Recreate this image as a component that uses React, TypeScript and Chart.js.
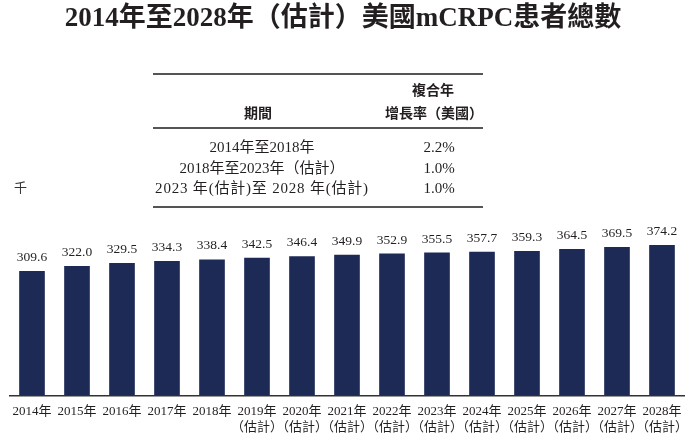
import React, { useEffect, useRef } from 'react'
import { Chart, registerables } from 'chart.js'

Chart.register(...registerables)

const years = ['2014', '2015', '2016', '2017', '2018', '2019', '2020', '2021', '2022', '2023', '2024', '2025', '2026', '2027', '2028']
const estimatedFrom = '2019'
const patients = [309.6, 322.0, 329.5, 334.3, 338.4, 342.5, 346.4, 349.9, 352.9, 355.5, 357.7, 359.3, 364.5, 369.5, 374.2]

const cagrPeriods = ['2014年至2018年', '2018年至2023年（估計）', '2023 年(估計)至 2028 年(估計)']
const cagrValues = ['2.2%', '1.0%', '1.0%']

const SERIF = '"Liberation Serif", "Noto Sans CJK TC", serif'
const SANS_CJK = '"Noto Sans CJK TC", "Noto Sans", sans-serif'
const INK = '#231f20'

const valueLabels = {
  id: 'valueLabels',
  afterDraw(chart: Chart) {
    const { ctx } = chart
    const meta = chart.getDatasetMeta(0)
    ctx.save()
    ctx.fillStyle = INK
    ctx.font = `13.5px ${SERIF}`
    ctx.textAlign = 'center'
    ctx.textBaseline = 'alphabetic'
    meta.data.forEach((bar: any, i: number) => {
      ctx.fillText(patients[i].toFixed(1), bar.x, bar.y - 10)
    })
    ctx.restore()
  },
}

function PatientsChart() {
  const canvasRef = useRef<HTMLCanvasElement>(null)
  const chartRef = useRef<Chart | null>(null)

  useEffect(() => {
    if (!canvasRef.current) return
    const ctx = canvasRef.current.getContext('2d')
    if (!ctx) return

    chartRef.current = new Chart(ctx, {
      type: 'bar',
      data: {
        labels: years.map(y => (Number(y) >= Number(estimatedFrom) ? [`${y}年`, '（估計）'] : [`${y}年`])),
        datasets: [
          {
            data: patients,
            backgroundColor: '#1e2a56',
            barPercentage: 0.57,
            categoryPercentage: 1,
          },
        ],
      },
      options: {
        animation: false,
        responsive: true,
        maintainAspectRatio: false,
        layout: { padding: { left: 9.5, right: 13.5, top: 234.7, bottom: 1.3 } },
        plugins: {
          legend: { display: false },
          tooltip: { enabled: false },
        },
        scales: {
          x: {
            grid: { display: false, drawTicks: false },
            border: { display: true, color: '#333', width: 1.5 },
            ticks: {
              color: INK,
              font: { size: 13, family: SERIF, lineHeight: 1.23 },
              padding: 8.7,
              maxRotation: 0,
              autoSkip: false,
            },
          },
          y: {
            display: false,
            min: 0,
            max: 400,
          },
        },
      },
      plugins: [valueLabels],
    })

    return () => {
      if (chartRef.current) {
        chartRef.current.destroy()
        chartRef.current = null
      }
    }
  }, [])

  return (
    <div style={{ position: 'absolute', left: 0, top: 0, width: 698, height: 446 }}>
      <canvas ref={canvasRef} />
    </div>
  )
}

const rule = (top: number) => (
  <div style={{ position: 'absolute', left: 153, width: 330, top: top - 0.75, height: 1.5, background: '#555' }} />
)

export default function App() {
  return (
    <div style={{ position: 'fixed', inset: 0, width: 698, height: 442, overflow: 'hidden', background: '#fff', color: INK }}>
      <PatientsChart />
      <div
        style={{
          position: 'absolute', left: -6, width: 698, top: 2, textAlign: 'center',
          fontFamily: SERIF, fontWeight: 'bold', fontSize: 27, lineHeight: '30px',
        }}
      >
        2014年至2028年（估計）美國mCRPC患者總數
      </div>

      {rule(74)}
      {rule(128)}
      {rule(207)}
      <div style={{ position: 'absolute', left: 383, width: 100, top: 80, textAlign: 'center', fontFamily: SANS_CJK, fontWeight: 'bold', fontSize: 14, lineHeight: '18px' }}>
        複合年
      </div>
      <div style={{ position: 'absolute', left: 208, width: 100, top: 103, textAlign: 'center', fontFamily: SANS_CJK, fontWeight: 'bold', fontSize: 14, lineHeight: '18px' }}>
        期間
      </div>
      <div style={{ position: 'absolute', left: 363, width: 120, top: 103, textAlign: 'right', fontFamily: SANS_CJK, fontWeight: 'bold', fontSize: 14, lineHeight: '18px' }}>
        增長率（美國）
      </div>
      {cagrPeriods.map((p, i) => (
        <React.Fragment key={p}>
          <div
            style={{
              position: 'absolute', left: 112, width: 300, top: 137 + i * 20.5, textAlign: 'center',
              fontFamily: SERIF, fontSize: 15, lineHeight: '20px', letterSpacing: i === 2 ? 0.8 : 0,
            }}
          >
            {p}
          </div>
          <div style={{ position: 'absolute', left: 389, width: 100, top: 137 + i * 20.5, textAlign: 'center', fontFamily: SERIF, fontSize: 15, lineHeight: '20px' }}>
            {cagrValues[i]}
          </div>
        </React.Fragment>
      ))}
      <div style={{ position: 'absolute', left: 14, top: 178, fontFamily: SANS_CJK, fontSize: 13, lineHeight: '18px', color: '#333' }}>千</div>
    </div>
  )
}
